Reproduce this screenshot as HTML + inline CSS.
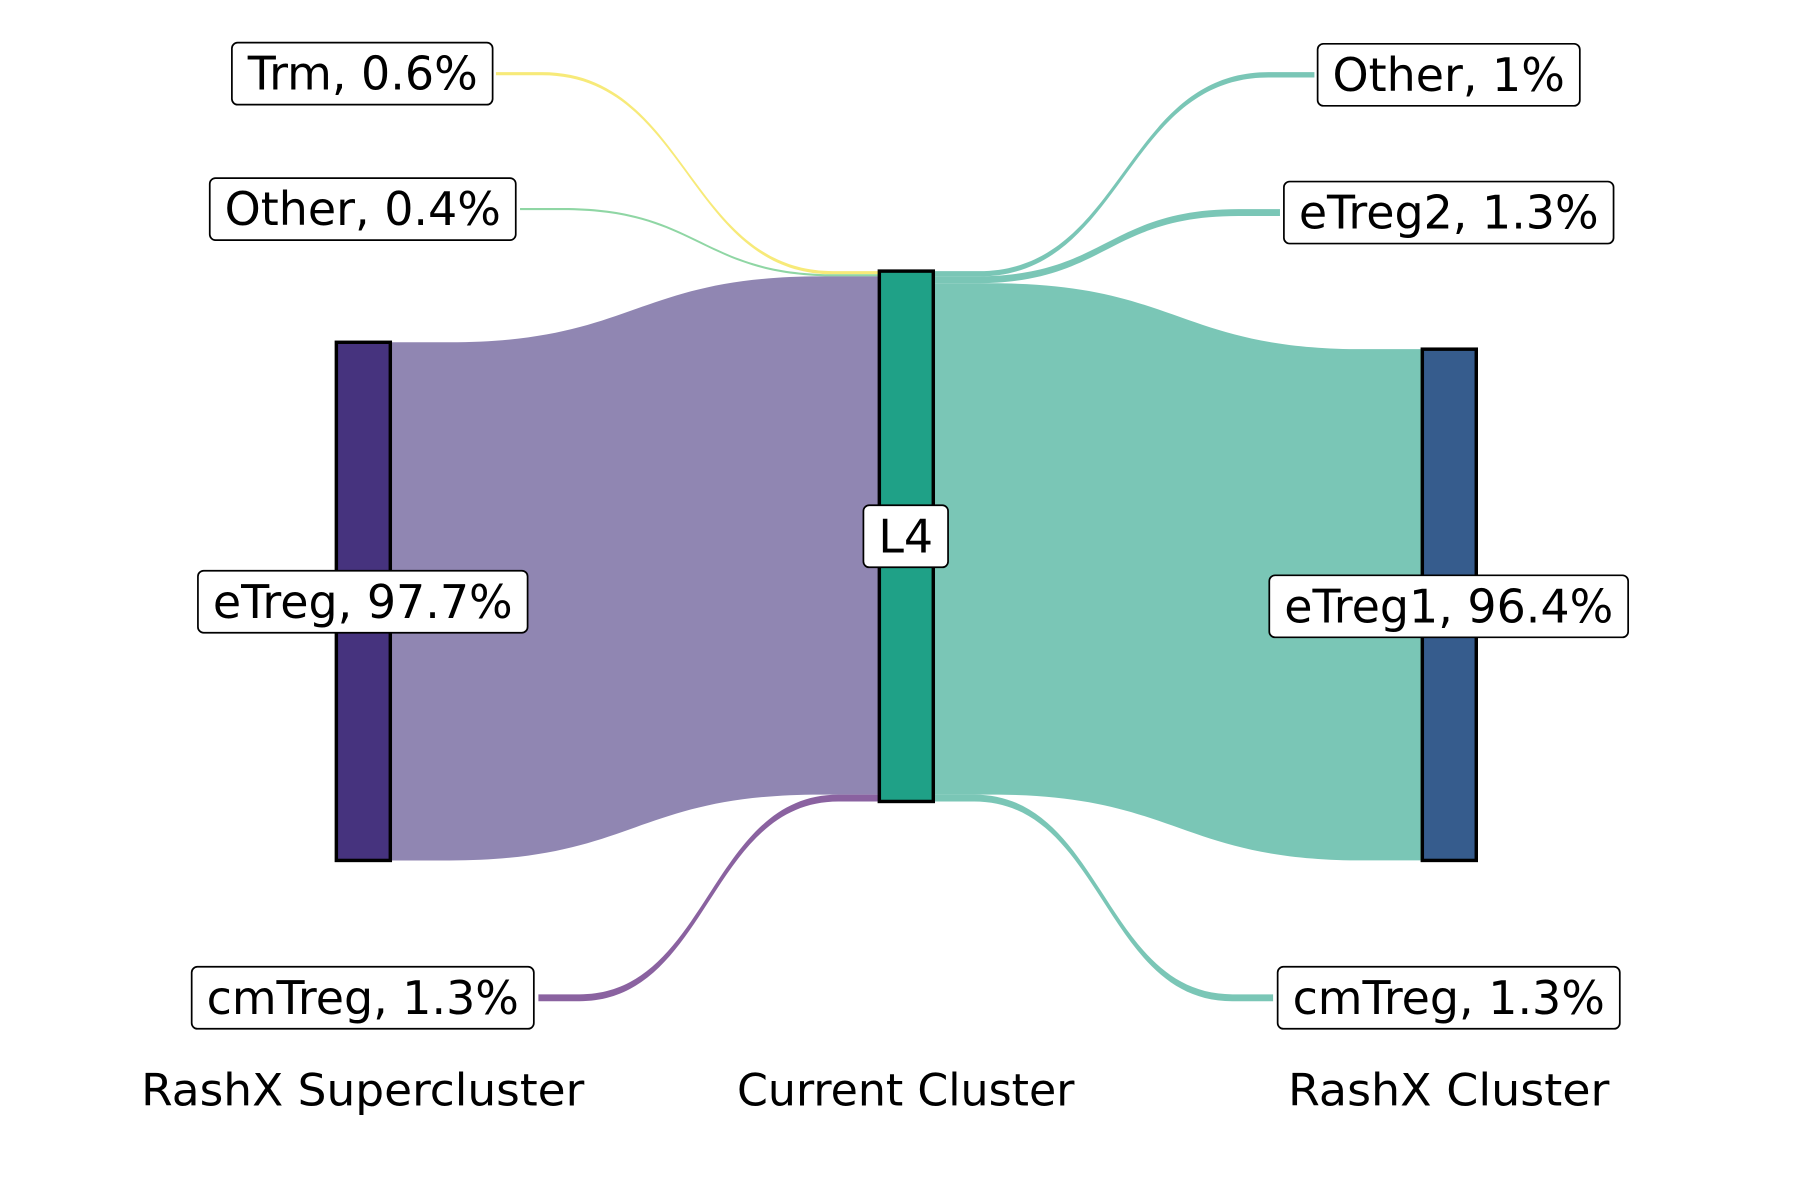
<!DOCTYPE html>
<html><head><meta charset="utf-8"><style>
html,body{margin:0;padding:0;background:#fff;}
svg{display:block;font-family:"DejaVu Sans","Liberation Sans",sans-serif;}
</style></head><body>
<svg id="chart" width="1800" height="1200" viewBox="0 0 1568 1045" xmlns="http://www.w3.org/2000/svg">
<g id="flows"></g>
<g id="nodes"></g>
<g id="labels"></g>
<g font-size="39" text-anchor="middle" fill="#000">
<text x="316" y="963" textLength="386" lengthAdjust="spacingAndGlyphs">RashX Supercluster</text>
<text x="789" y="963" textLength="294" lengthAdjust="spacingAndGlyphs">Current Cluster</text>
<text x="1262" y="963" textLength="280" lengthAdjust="spacingAndGlyphs">RashX Cluster</text>
</g>
</svg>
<script>
// data
const leftCategories = ["Trm", "Other", "eTreg", "cmTreg"];
const leftValues = [0.6, 0.4, 97.7, 1.3];
const leftLabelText = ["Trm, 0.6%", "Other, 0.4%", "eTreg, 97.7%", "cmTreg, 1.3%"];
const rightCategories = ["Other", "eTreg2", "eTreg1", "cmTreg"];
const rightValues = [1, 1.3, 96.4, 1.3];
const rightLabelText = ["Other, 1%", "eTreg2, 1.3%", "eTreg1, 96.4%", "cmTreg, 1.3%"];
const middleLabel = "L4";

// layout (not data)
const NS = "http://www.w3.org/2000/svg";
const midTop = 236, midH = 462;
function yScale(v){ return v * midH / 100; }
const leftColors = ["#f7ea79", "#8fd6a4", "#9086b2", "#8a62a0"];
const rightColor = "#7ac6b6";
const leftLabelY = [64, 182, 524, 869];
const rightLabelY = [65, 185, 528, 869];
const leftLabelRight = [432, 453, 0, 469];
const rightLabelLeft = [1145, 1115, 1102, 1109];

const flows = document.getElementById("flows");
const nodes = document.getElementById("nodes");
const labels = document.getElementById("labels");

function edge(xa, ya, xb, yb){
  const dx = xb - xa;
  const p = xa + 0.12*dx, q = xa + 0.88*dx, m = (p+q)/2;
  return `L${p},${ya} C${m},${ya} ${m},${yb} ${q},${yb} L${xb},${yb}`;
}
function band(x0, s0, s1, x1, t0, t1){
  return `M${x0},${s0} ` + edge(x0,s0,x1,t0) + ` L${x1},${t1} ` + edge(x1,t1,x0,s1) + " Z";
}
function rect(x,y,w,h,fill,name){
  const r = document.createElementNS(NS,"rect");
  r.setAttribute("x",x); r.setAttribute("y",y); r.setAttribute("width",w); r.setAttribute("height",h);
  r.setAttribute("fill",fill); r.setAttribute("stroke","#000"); r.setAttribute("stroke-width","3");
  
  
  nodes.appendChild(r);
}
function label(text, cx, cy, name){
  const g = document.createElementNS(NS,"g");
  
  
  const t = document.createElementNS(NS,"text");
  t.textContent = text;
  t.setAttribute("x", cx); t.setAttribute("y", cy + 14);
  t.setAttribute("font-size","40"); t.setAttribute("text-anchor","middle");
  g.appendChild(t); labels.appendChild(g);
  const bb = t.getBBox();
  const r = document.createElementNS(NS,"rect");
  r.setAttribute("x", bb.x - 13); r.setAttribute("y", cy - 27);
  r.setAttribute("width", bb.width + 26); r.setAttribute("height", 54);
  r.setAttribute("rx","5"); r.setAttribute("fill","#fff"); r.setAttribute("stroke","#000"); r.setAttribute("stroke-width","1.5");
  g.insertBefore(r, t);
}

const leftNodeX = 293, nodeW = 47, midX = 766, rightNodeX = 1239;
const leftBigIdx = leftValues.indexOf(Math.max(...leftValues));
const leftNodeTop = 298;
let acc = midTop;
leftValues.forEach((v,i)=>{
  const h = yScale(v);
  const t0 = acc, t1 = acc + h; acc = t1;
  let d;
  if (i === leftBigIdx) {
    d = band(leftNodeX + nodeW, leftNodeTop, leftNodeTop + h, midX, t0, t1);
  } else {
    const y = leftLabelY[i];
    d = band(leftLabelRight[i], y - h/2, y + h/2, midX, t0, t1);
  }
  const p = document.createElementNS(NS,"path");
  p.setAttribute("d", d); p.setAttribute("fill", leftColors[i]);
  
  
  flows.appendChild(p);
});
const rightBigIdx = rightValues.indexOf(Math.max(...rightValues));
const rightNodeTop = 304;
acc = midTop;
rightValues.forEach((v,i)=>{
  const h = yScale(v);
  const s0 = acc, s1 = acc + h; acc = s1;
  let d;
  if (i === rightBigIdx) {
    d = band(midX + nodeW, s0, s1, rightNodeX, rightNodeTop, rightNodeTop + h);
  } else {
    const y = rightLabelY[i];
    d = band(midX + nodeW, s0, s1, rightLabelLeft[i], y - h/2, y + h/2);
  }
  const p = document.createElementNS(NS,"path");
  p.setAttribute("d", d); p.setAttribute("fill", rightColor);
  
  
  flows.appendChild(p);
});

rect(leftNodeX, leftNodeTop, nodeW, yScale(leftValues[leftBigIdx]), "#46337e", "left-node-etreg");
rect(midX, midTop, nodeW, midH, "#1fa187", "middle-node-l4");
rect(rightNodeX, rightNodeTop, nodeW, yScale(rightValues[rightBigIdx]), "#365c8d", "right-node-etreg1");

leftLabelText.forEach((s,i)=>{
  label(s, 316, leftLabelY[i], 'left-label-' + leftCategories[i].toLowerCase());
});
label(middleLabel, 789, 467, 'middle-label-l4');
rightLabelText.forEach((s,i)=>{
  label(s, 1262, rightLabelY[i], 'right-label-' + rightCategories[i].toLowerCase());
});
</script>
</body></html>
